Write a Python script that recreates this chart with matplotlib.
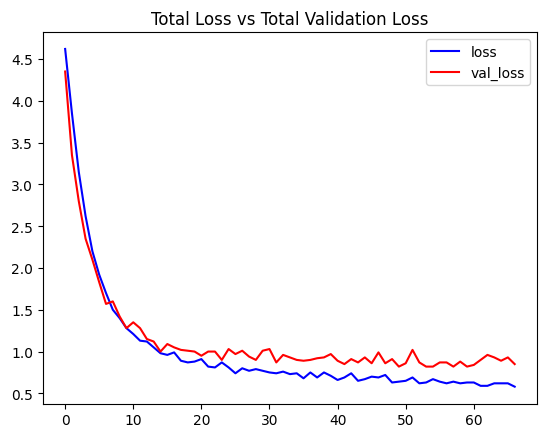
import matplotlib
matplotlib.use("Agg")
import matplotlib.pyplot as plt

loss = [4.62, 3.85, 3.15, 2.62, 2.2, 1.92, 1.7, 1.5, 1.4, 1.28,
        1.21, 1.13, 1.12, 1.05, 0.98, 0.96, 0.99, 0.89, 0.87, 0.88,
        0.91, 0.82, 0.81, 0.87, 0.81, 0.74, 0.8, 0.77, 0.79, 0.77,
        0.75, 0.74, 0.76, 0.73, 0.74, 0.68, 0.75, 0.69, 0.75, 0.71,
        0.66, 0.69, 0.74, 0.65, 0.67, 0.7, 0.69, 0.72, 0.63, 0.64,
        0.65, 0.69, 0.62, 0.63, 0.67, 0.64, 0.62, 0.64, 0.62, 0.63,
        0.63, 0.59, 0.59, 0.62, 0.62, 0.62, 0.58]
val_loss = [4.35, 3.35, 2.8, 2.35, 2.1, 1.83, 1.57, 1.6, 1.42, 1.28,
            1.35, 1.28, 1.15, 1.12, 1.0, 1.09, 1.05, 1.02, 1.01, 1.0,
            0.95, 1.0, 1.0, 0.9, 1.03, 0.97, 1.01, 0.94, 0.9, 1.01,
            1.03, 0.87, 0.96, 0.93, 0.9, 0.89, 0.9, 0.92, 0.93, 0.97,
            0.89, 0.85, 0.91, 0.87, 0.93, 0.86, 0.99, 0.86, 0.91, 0.82,
            0.86, 1.02, 0.87, 0.82, 0.82, 0.87, 0.87, 0.82, 0.88, 0.82,
            0.84, 0.90, 0.96, 0.93, 0.89, 0.93, 0.85]
epochs = list(range(len(loss)))

fig = plt.figure(figsize=(5.47, 4.35), dpi=100)
plt.plot(epochs, loss, color="blue", label="loss")
plt.plot(epochs, val_loss, color="red", label="val_loss")
plt.title("Total Loss vs Total Validation Loss")
plt.legend()
plt.subplots_adjust(left=0.078, right=0.982, top=0.924, bottom=0.07)
plt.savefig("out.png")
